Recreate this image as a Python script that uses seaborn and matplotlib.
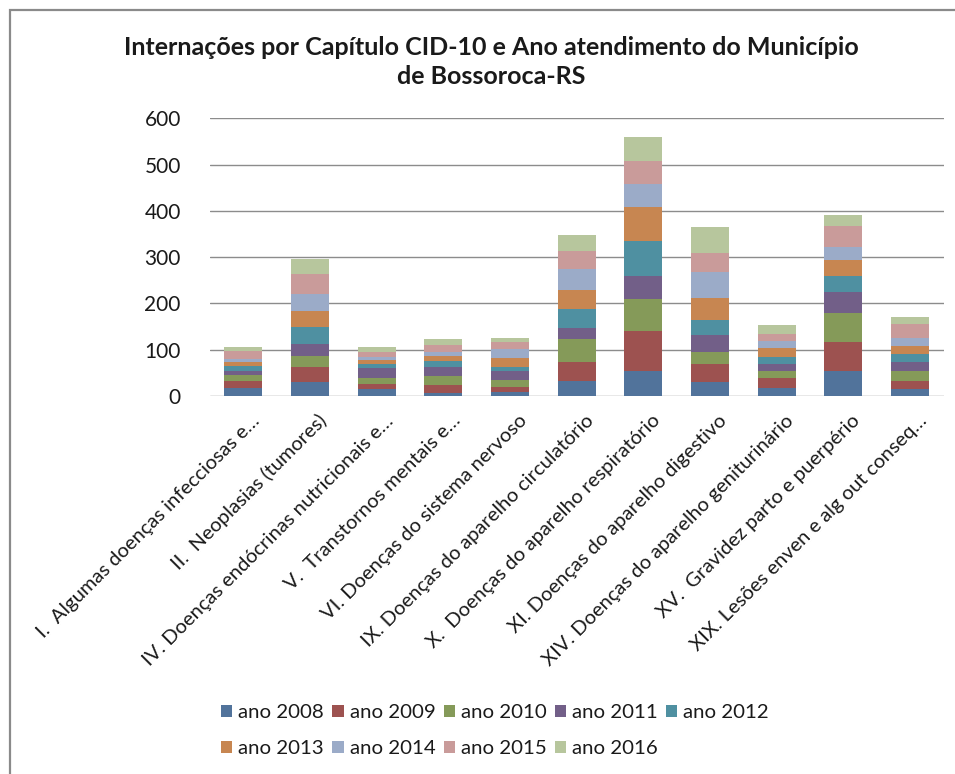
import matplotlib
matplotlib.use("Agg")
import matplotlib.pyplot as plt
import matplotlib.transforms as mtransforms
from matplotlib.patches import Rectangle
import numpy as np
import pandas as pd
import seaborn as sns

# ---- data -------------------------------------------------------------
categories = [
    "I.  Algumas doenças infecciosas e…",
    "II.  Neoplasias (tumores)",
    "IV. Doenças endócrinas nutricionais e…",
    "V.  Transtornos mentais e…",
    "VI. Doenças do sistema nervoso",
    "IX. Doenças do aparelho circulatório",
    "X.  Doenças do aparelho respiratório",
    "XI. Doenças do aparelho digestivo",
    "XIV. Doenças do aparelho geniturinário",
    "XV.  Gravidez parto e puerpério",
    "XIX. Lesões enven e alg out conseq…",
]
years = ["ano 2008", "ano 2009", "ano 2010", "ano 2011", "ano 2012",
         "ano 2013", "ano 2014", "ano 2015", "ano 2016"]

ano_2008 = [17, 30, 15, 6, 9, 33, 55, 30, 18, 54, 15]
ano_2009 = [16, 32, 10, 17, 10, 41, 85, 39, 21, 63, 17]
ano_2010 = [13, 25, 14, 20, 16, 50, 70, 25, 15, 63, 21]
ano_2011 = [7, 26, 21, 19, 20, 23, 49, 38, 16, 44, 20]
ano_2012 = [12, 36, 9, 13, 7, 42, 75, 32, 14, 36, 18]
ano_2013 = [9, 34, 9, 12, 20, 41, 75, 48, 19, 34, 17]
ano_2014 = [5, 37, 6, 7, 19, 45, 49, 55, 16, 28, 18]
ano_2015 = [19, 44, 11, 17, 16, 39, 50, 41, 14, 46, 30]
ano_2016 = [7, 32, 11, 13, 9, 34, 52, 58, 20, 24, 15]

series = [ano_2008, ano_2009, ano_2010, ano_2011, ano_2012,
          ano_2013, ano_2014, ano_2015, ano_2016]

colors = ["#4572A7", "#AA4643", "#89A54E", "#71588F", "#4198AF",
          "#DB843D", "#93A9CF", "#D19392", "#B9CD96"]

yticks = [0, 100, 200, 300, 400, 500, 600]

# ---- style ------------------------------------------------------------
sns.set_theme(style="white")
plt.rcParams["font.family"] = ["Lato", "DejaVu Sans"]
plt.rcParams["text.color"] = "#1a1a1a"

W, H = 955, 774
fig = plt.figure(figsize=(W / 100, H / 100), dpi=100)
fig.patch.set_facecolor("white")

# chart border (top/left edges visible)
fig.add_artist(Rectangle((10 / W, -0.05), 1.1, 1 - 10 / H + 0.05,
                         transform=fig.transFigure, fill=False,
                         edgecolor="#8a8a8a", linewidth=1.6))

left, right, top, bottom = 210, 943.5, 118.3, 396
ax = fig.add_axes([left / W, 1 - bottom / H, (right - left) / W, (bottom - top) / H])

df = pd.DataFrame({"categoria": categories})
base = np.zeros(len(categories))
for name, vals, col in zip(years, series, colors):
    df["valor"] = vals
    sns.barplot(data=df, x="categoria", y="valor", bottom=base.copy(),
                color=col, width=0.57, label=name, ax=ax,
                edgecolor="none", linewidth=0, errorbar=None)
    base = base + np.array(vals)

ax.set_ylim(0, 600)
ax.set_xlim(-0.5, len(categories) - 0.5)
ax.set_yticks(yticks)
ax.set_yticklabels([str(t) for t in yticks], fontsize=15, color="#1a1a1a")
ax.yaxis.grid(True, color="#8c8c8c", linewidth=1)
ax.set_axisbelow(True)
for s in ax.spines.values():
    s.set_visible(False)
ax.tick_params(axis="y", length=0, pad=21)
ax.tick_params(axis="x", length=0)
ax.set_xlabel("")
ax.set_ylabel("")

offset = mtransforms.ScaledTranslation(0.14, -0.17, fig.dpi_scale_trans)
ax.set_xticks(range(len(categories)))
ax.set_xticklabels(categories, rotation=45, ha="right", va="center",
                   rotation_mode="anchor", fontsize=14.5, color="#1a1a1a")
for lbl in ax.get_xticklabels():
    lbl.set_transform(lbl.get_transform() + offset)

fig.text(491 / W, 1 - 62 / H,
         "Internações por Capítulo CID-10 e Ano atendimento do Município\nde Bossoroca-RS",
         ha="center", va="center", fontsize=18, fontweight="bold",
         linespacing=1.3, color="#1a1a1a")

handles, labels = ax.get_legend_handles_labels()
order = [0, 5, 1, 6, 2, 7, 3, 8, 4]
fig.legend([handles[i] for i in order], [labels[i] for i in order],
           ncol=5, loc="upper left", bbox_to_anchor=(221 / W, 1 - 704 / H),
           frameon=False, fontsize=14.7, handlelength=0.55, handleheight=0.55,
           handletextpad=0.3, columnspacing=0.4, labelspacing=0.95,
           borderpad=0, borderaxespad=0)
if ax.legend_:
    ax.legend_.remove()

fig.savefig("out.png", dpi=100, facecolor="white")
